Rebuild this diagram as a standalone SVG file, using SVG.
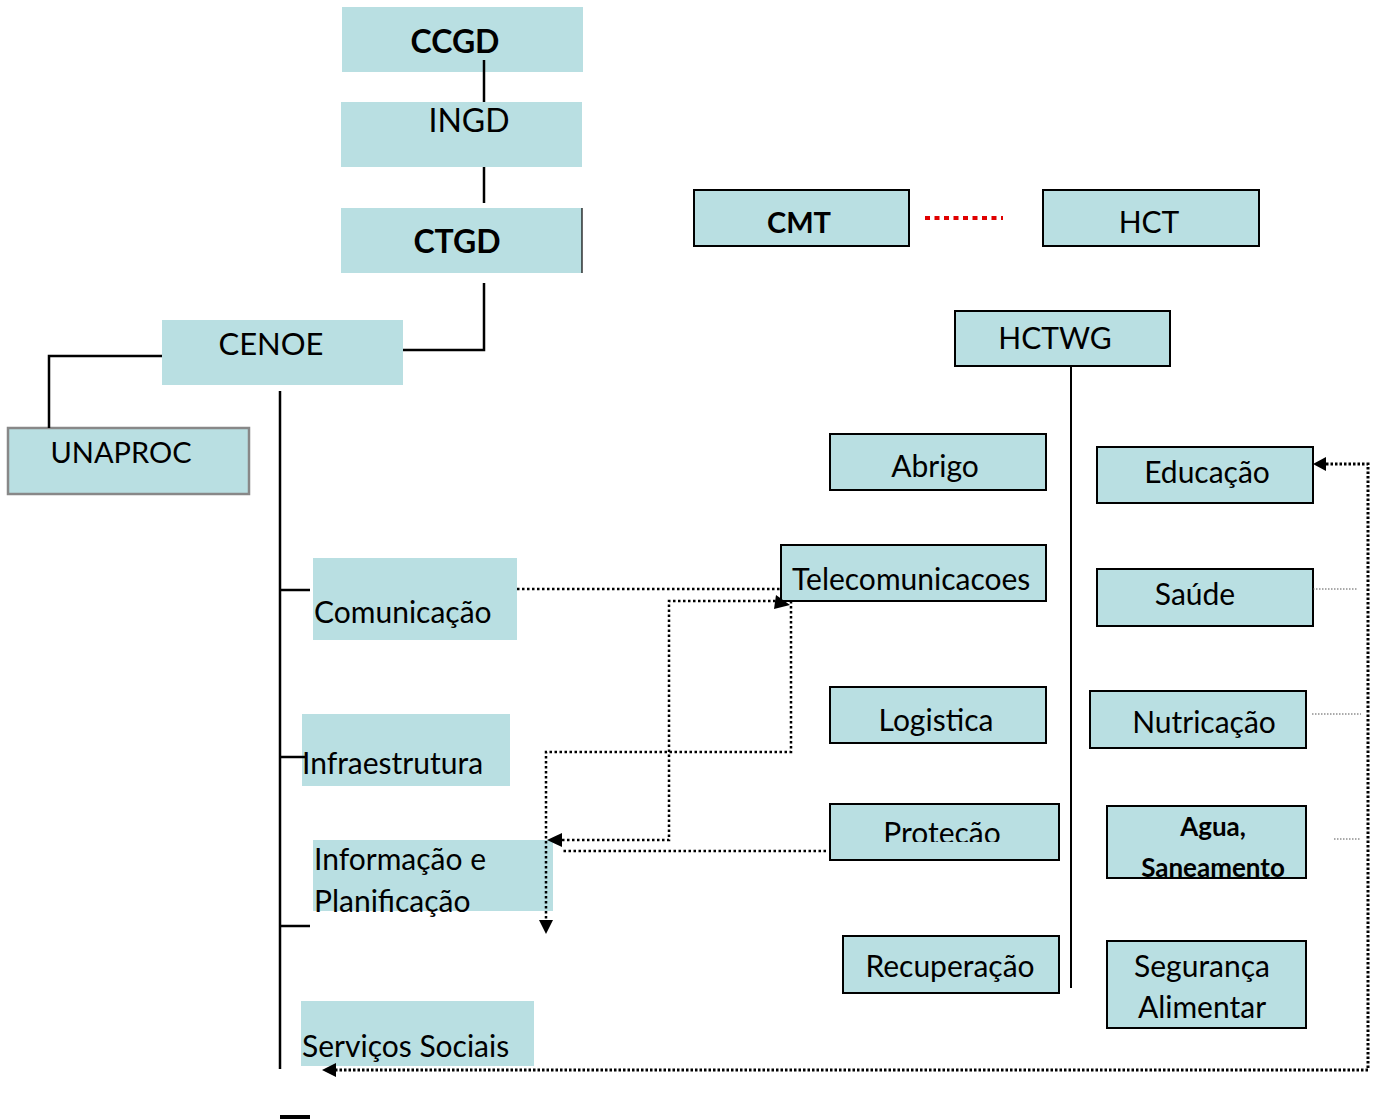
<svg xmlns="http://www.w3.org/2000/svg" width="1379" height="1119" viewBox="0 0 1379 1119">
<style>
.box{fill:#b9dfe2}
.bb{fill:#b9dfe2;stroke:#000;stroke-width:2}
.t{font-family:Lato,"Liberation Sans",sans-serif;font-size:30px;fill:#000}
.c{text-anchor:middle}
.b{font-weight:bold}
.ln{fill:none;stroke:#000;stroke-width:2.5}
.dt{fill:none;stroke:#000;stroke-width:2.5;stroke-dasharray:2.5,2.5}
.dt2{fill:none;stroke:#000;stroke-width:3;stroke-dasharray:2.5,2}
.th{fill:none;stroke:#555;stroke-width:1;stroke-dasharray:1.5,1.5}
</style>
<defs>
<clipPath id="cp1"><rect x="830" y="804" width="229" height="38"/></clipPath>
<clipPath id="cp2"><rect x="1107" y="806" width="199" height="72"/></clipPath>
</defs>
<g id="ccgd"><rect class="box" x="342" y="7" width="241" height="65"/><text class="t c b" x="455" y="53" style="font-size:32px">CCGD</text></g>
<g id="ingd"><rect class="box" x="341" y="102" width="241" height="65"/><text class="t c" x="469" y="132" style="font-size:32px">INGD</text></g>
<g id="ctgd"><rect class="box" x="341" y="208" width="241" height="65"/><text class="t c b" x="457" y="253" style="font-size:32px">CTGD</text></g>
<g id="cenoe"><rect class="box" x="162" y="320" width="241" height="65"/><text class="t c" x="271" y="355" style="font-size:31px">CENOE</text></g>
<g id="unaproc"><rect x="8" y="428" width="241" height="66" fill="#b9dfe2" stroke="#888" stroke-width="2.5"/><text class="t c" x="121" y="463" style="font-size:29px">UNAPROC</text></g>
<g id="comunicacao"><rect class="box" x="313" y="558" width="204" height="82"/><text class="t" x="314" y="623">Comunicação</text></g>
<g id="infraestrutura"><rect class="box" x="302" y="714" width="208" height="72"/><text class="t" x="302" y="774">Infraestrutura</text></g>
<g id="informacao"><rect class="box" x="313" y="840" width="240" height="71"/><text class="t" x="314" y="870">Informação e</text><text class="t" x="314" y="912">Planificação</text></g>
<g id="servicos"><rect class="box" x="301" y="1001" width="233" height="65"/><text class="t" x="302" y="1057">Serviços Sociais</text></g>
<g id="cmt"><rect class="bb" x="694" y="190" width="215" height="56"/><text class="t c b" x="799" y="233" style="font-size:29px">CMT</text></g>
<g id="hct"><rect class="bb" x="1043" y="190" width="216" height="56"/><text class="t c" x="1149" y="233">HCT</text></g>
<g id="hctwg"><rect class="bb" x="955" y="311" width="215" height="55"/><text class="t c" x="1055" y="349">HCTWG</text></g>
<g id="abrigo"><rect class="bb" x="830" y="434" width="216" height="56"/><text class="t c" x="935" y="477">Abrigo</text></g>
<g id="telecom"><rect class="bb" x="781" y="545" width="265" height="56"/><text class="t" x="792" y="590">Telecomunicacoes</text></g>
<g id="logistica"><rect class="bb" x="830" y="687" width="216" height="56"/><text class="t c" x="936" y="731">Logistica</text></g>
<g id="protecao"><rect class="bb" x="830" y="804" width="229" height="56"/><text class="t c" x="942" y="844" clip-path="url(#cp1)">Proteção</text></g>
<g id="recuperacao"><rect class="bb" x="843" y="936" width="216" height="57"/><text class="t c" x="950" y="977">Recuperação</text></g>
<g id="educacao"><rect class="bb" x="1097" y="447" width="216" height="56"/><text class="t c" x="1207" y="483">Educação</text></g>
<g id="saude"><rect class="bb" x="1097" y="569" width="216" height="57"/><text class="t c" x="1195" y="605">Saúde</text></g>
<g id="nutricacao"><rect class="bb" x="1090" y="691" width="216" height="57"/><text class="t c" x="1204" y="733">Nutricação</text></g>
<g id="agua"><rect class="bb" x="1107" y="806" width="199" height="72"/><text class="t c b" x="1213" y="836" style="font-size:26px">Agua,</text><text class="t c b" x="1213" y="877" style="font-size:26px" clip-path="url(#cp2)">Saneamento</text></g>
<g id="seguranca"><rect class="bb" x="1107" y="941" width="199" height="87"/><text class="t c" x="1202" y="977">Segurança</text><text class="t c" x="1202" y="1018">Alimentar</text></g>
<g id="connectors">
<line class="ln" x1="484" y1="60" x2="484" y2="102"/>
<line class="ln" x1="484" y1="167" x2="484" y2="203"/>
<line x1="582" y1="208" x2="582" y2="273" stroke="#000" stroke-width="1.2"/>
<polyline class="ln" points="484,283 484,350 403,350"/>
<polyline class="ln" points="162,356 49,356 49,428"/>
<line class="ln" x1="280" y1="391" x2="280" y2="1069"/>
<line class="ln" x1="280" y1="590" x2="310" y2="590"/>
<line class="ln" x1="280" y1="757" x2="305" y2="757"/>
<line class="ln" x1="280" y1="926" x2="310" y2="926"/>
<line x1="280" y1="1117" x2="310" y2="1117" stroke="#000" stroke-width="4"/>
<line x1="1071" y1="366" x2="1071" y2="988" stroke="#000" stroke-width="2"/>
<line x1="925" y1="218" x2="1003" y2="218" stroke="#e00000" stroke-width="4" stroke-dasharray="5,4.5"/>
<line class="dt" x1="517" y1="589" x2="780" y2="589"/>
<polyline class="dt" points="562,840 669,840 669,601 776,601"/>
<path d="M547,840 L562,833 L562,847 z" fill="#000"/>
<path d="M790,605 L776,595 L774,609 z" fill="#000"/>
<polyline class="dt" points="791,601 791,752 546,752 546,920"/>
<path d="M546,934 L539,920 L553,920 z" fill="#000"/>
<line class="dt" x1="826" y1="851" x2="562" y2="851"/>
<polyline class="dt2" points="1326,464 1368,464 1368,1070 336,1070"/>
<path d="M1313,464 L1326,457 L1326,471 z" fill="#000"/>
<path d="M322,1070 L336,1063 L336,1077 z" fill="#000"/>
<line class="th" x1="1313" y1="589" x2="1358" y2="589"/>
<line class="th" x1="1312" y1="714" x2="1361" y2="714"/>
<line class="th" x1="1334" y1="839" x2="1360" y2="839"/>
</g>
</svg>
